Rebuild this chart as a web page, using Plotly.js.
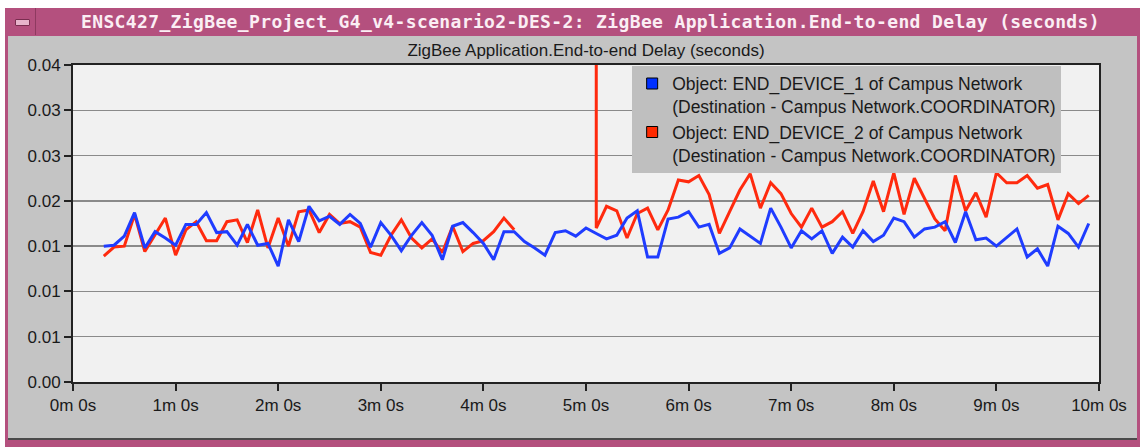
<!DOCTYPE html>
<html>
<head>
<meta charset="utf-8">
<script src="https://cdn.plot.ly/plotly-3.0.1.min.js"></script>
<style>
    body { margin: 0; background: #ffffff; width: 1144px; height: 447px; overflow: hidden; position: relative; }
    #frame { position: absolute; left: 5px; top: 8px; width: 1135px; height: 439px; background: #b4507e; }
    #closeBox { position: absolute; left: 8px; top: 8px; width: 27px; height: 27px; border-right: 1px solid #8e3a60; }
    #closeGlyph { position: absolute; left: 15px; top: 19px; width: 13px; height: 5px; background: #e7b4cb; border: 1px solid #7a2d50; border-radius: 1px; }
    #titleText { position: absolute; left: 40px; top: 8px; width: 1101px; height: 27px; line-height: 27px; text-align: center;
                 font-family: "DejaVu Sans Mono", monospace; font-weight: bold; font-size: 18px; letter-spacing: 0.36px; color: #fbeef4; white-space: nowrap; }
    #body { position: absolute; left: 8px; top: 36px; width: 1129px; height: 402px; background: #c4c4c4; border-bottom: 2px solid #4a4a4a; }
    #reportOutput { position: absolute; left: 0; top: 0; width: 1144px; height: 447px; }
</style>
</head>
<body>
<div id="frame"></div>
<div id="body"></div>
<div id="closeBox"></div>
<div id="closeGlyph"></div>
<div id="titleText">ENSC427_ZigBee_Project_G4_v4-scenario2-DES-2: ZigBee Application.End-to-end Delay (seconds)</div>
<div id="reportOutput"></div>
<script>
// sample times (seconds)
const sampleTimes = [18, 24, 30, 36, 42, 48, 54, 60, 66, 72, 78, 84, 90, 96, 102, 108, 114, 120, 126, 132,
    138, 144, 150, 156, 162, 168, 174, 180, 186, 192, 198, 204, 210, 216, 222, 228, 234, 240, 246, 252,
    258, 264, 270, 276, 282, 288, 294, 300, 306, 312, 318, 324, 330, 336, 342, 348, 354, 360, 366, 372,
    378, 384, 390, 396, 402, 408, 414, 420, 426, 432, 438, 444, 450, 456, 462, 468, 474, 480, 486, 492,
    498, 504, 510, 516, 522, 528, 534, 540, 546, 552, 558, 564, 570, 576, 582, 588, 594];

// END_DEVICE_1 delay (seconds)
const device1Delay = [0.0150, 0.0151, 0.0161, 0.0187, 0.0148, 0.0166, 0.0159, 0.0151, 0.0174, 0.0174,
    0.0187, 0.0165, 0.0166, 0.0151, 0.0174, 0.0151, 0.0153, 0.0128, 0.0179, 0.0155,
    0.0194, 0.0178, 0.0183, 0.0174, 0.0185, 0.0175, 0.0149, 0.0176, 0.0162, 0.0145,
    0.0162, 0.0176, 0.0162, 0.0135, 0.0172, 0.0176, 0.0165, 0.0153, 0.0135, 0.0166,
    0.0166, 0.0155, 0.0148, 0.0140, 0.0165, 0.0167, 0.0161, 0.0170, 0.0164, 0.0158,
    0.0162, 0.0181, 0.0189, 0.0138, 0.0138, 0.0180, 0.0182, 0.0188, 0.0171, 0.0174,
    0.0142, 0.0148, 0.0169, 0.0161, 0.0153, 0.0192, 0.0171, 0.0148, 0.0167, 0.0158,
    0.0167, 0.0142, 0.0160, 0.0149, 0.0167, 0.0155, 0.0162, 0.0181, 0.0177, 0.0160,
    0.0169, 0.0171, 0.0177, 0.0154, 0.0188, 0.0157, 0.0159, 0.0150, 0.0160, 0.0169,
    0.0138, 0.0147, 0.0128, 0.0172, 0.0164, 0.0149, 0.0175];

// END_DEVICE_2 has a gap, then restarts with a big first value
const device2Times = [18, 24, 30, 36, 42, 48, 54, 60, 66, 72, 78, 84, 90, 96, 102, 108, 114, 120, 126, 132,
    138, 144, 150, 156, 162, 168, 174, 180, 186, 192, 198, 204, 210, 216, 222, 228, 234, 240, 246, 252,
    258, 282, 306, 306, 312, 318, 324, 330, 336, 342, 348, 354, 360, 366, 372, 378, 384, 390, 396, 402,
    408, 414, 420, 426, 432, 438, 444, 450, 456, 462, 468, 474, 480, 486, 492, 498, 504, 510, 516, 522,
    528, 534, 540, 546, 552, 558, 564, 570, 576, 582, 588, 594];

const device2Delay = [0.0139, 0.0149, 0.0150, 0.0185, 0.0144, 0.0162, 0.0181, 0.0140, 0.0168, 0.0177,
    0.0156, 0.0156, 0.0177, 0.0179, 0.0154, 0.0190, 0.0148, 0.0181, 0.0150, 0.0188,
    0.0190, 0.0165, 0.0185, 0.0175, 0.0177, 0.0171, 0.0143, 0.0140, 0.0162, 0.0179,
    0.0159, 0.0148, 0.0158, 0.0143, 0.0172, 0.0144, 0.0153, 0.0156, 0.0166, 0.0181,
    0.0168, null, 0.0600, 0.0170,
    0.0194, 0.0189, 0.0159, 0.0186, 0.0192, 0.0168, 0.0190, 0.0223, 0.0221, 0.0228,
    0.0207, 0.0164, 0.0188, 0.0212, 0.0230, 0.0192, 0.0220, 0.0208, 0.0186, 0.0171,
    0.0192, 0.0171, 0.0177, 0.0188, 0.0164, 0.0188, 0.0222, 0.0188, 0.0231, 0.0185,
    0.0225, 0.0203, 0.0180, 0.0167, 0.0228, 0.0189, 0.0209, 0.0182, 0.0231, 0.0220,
    0.0220, 0.0228, 0.0214, 0.0218, 0.0179, 0.0208, 0.0197, 0.0206];

const seriesNames = ["Object: END_DEVICE_1 of Campus Network<br>(Destination - Campus Network.COORDINATOR)",
    "Object: END_DEVICE_2 of Campus Network<br>(Destination - Campus Network.COORDINATOR)"];

const yTickVals = [0, 0.005, 0.010, 0.015, 0.020, 0.025, 0.030, 0.035];
const yTickText = ["0.00", "0.01", "0.01", "0.01", "0.02", "0.03", "0.03", "0.04"];
const xTickVals = [0, 60, 120, 180, 240, 300, 360, 420, 480, 540, 600];
const xTickText = ["0m 0s", "1m 0s", "2m 0s", "3m 0s", "4m 0s", "5m 0s", "6m 0s", "7m 0s", "8m 0s", "9m 0s", "10m 0s"];

const blue = '#1f3cff';
const red = '#ff2a0e';

function buildChart() {
    var device2 = {
        x: device2Times,
        y: device2Delay,
        type: 'scatter',
        mode: 'lines',
        line: {color: red, width: 3},
        showlegend: false,
        hoverinfo: 'skip'
    };

    var device1 = {
        x: sampleTimes,
        y: device1Delay,
        type: 'scatter',
        mode: 'lines',
        line: {color: blue, width: 3},
        showlegend: false,
        hoverinfo: 'skip'
    };

    //legend only entries, so the key is a square like the original
    var key1 = {
        x: [null], y: [null], type: 'scatter', mode: 'markers', name: seriesNames[0],
        marker: {symbol: 'square', size: 11, color: '#0030ff', line: {color: '#000', width: 1}}
    };
    var key2 = {
        x: [null], y: [null], type: 'scatter', mode: 'markers', name: seriesNames[1],
        marker: {symbol: 'square', size: 11, color: '#ff2a00', line: {color: '#000', width: 1}}
    };

    var data = [device2, device1, key1, key2];

    var layout = {
        width: 1144,
        height: 447,
        margin: {l: 73, r: 45, t: 65, b: 65},
        paper_bgcolor: 'rgba(0,0,0,0)',
        plot_bgcolor: '#f1f1f1',
        font: {family: 'Liberation Sans, Arial, sans-serif', size: 17, color: '#1a1a1a'},
        title: {
            text: 'ZigBee Application.End-to-end Delay (seconds)',
            font: {size: 17, color: '#1a1a1a'},
            x: 0.5, xref: 'paper', xanchor: 'center',
            y: 1 - 50 / 447, yanchor: 'middle'
        },
        xaxis: {
            range: [0, 600],
            tickvals: xTickVals,
            ticktext: xTickText,
            ticks: 'outside', ticklen: 7, tickwidth: 2, tickcolor: '#222',
            showgrid: false, zeroline: false,
            showline: true, linecolor: '#222', linewidth: 2, mirror: true,
            fixedrange: true
        },
        yaxis: {
            range: [0, 0.035],
            tickvals: yTickVals,
            ticktext: yTickText,
            ticks: 'outside', ticklen: 7, tickwidth: 2, tickcolor: '#222',
            showgrid: true, gridcolor: '#8a8a8a', gridwidth: 1.5,
            zeroline: false,
            showline: true, linecolor: '#222', linewidth: 2, mirror: true,
            fixedrange: true
        },
        legend: {
            x: 0.545, xanchor: 'left',
            y: 0.998, yanchor: 'top',
            bgcolor: '#bfbfbf',
            borderwidth: 0,
            valign: 'top',
            font: {size: 17.5, color: '#1a1a1a'},
            tracegroupgap: 0
        },
        showlegend: true
    };

    Plotly.newPlot("reportOutput", data, layout, {staticPlot: true});
}

window.onload = buildChart;
</script>
</body>
</html>
